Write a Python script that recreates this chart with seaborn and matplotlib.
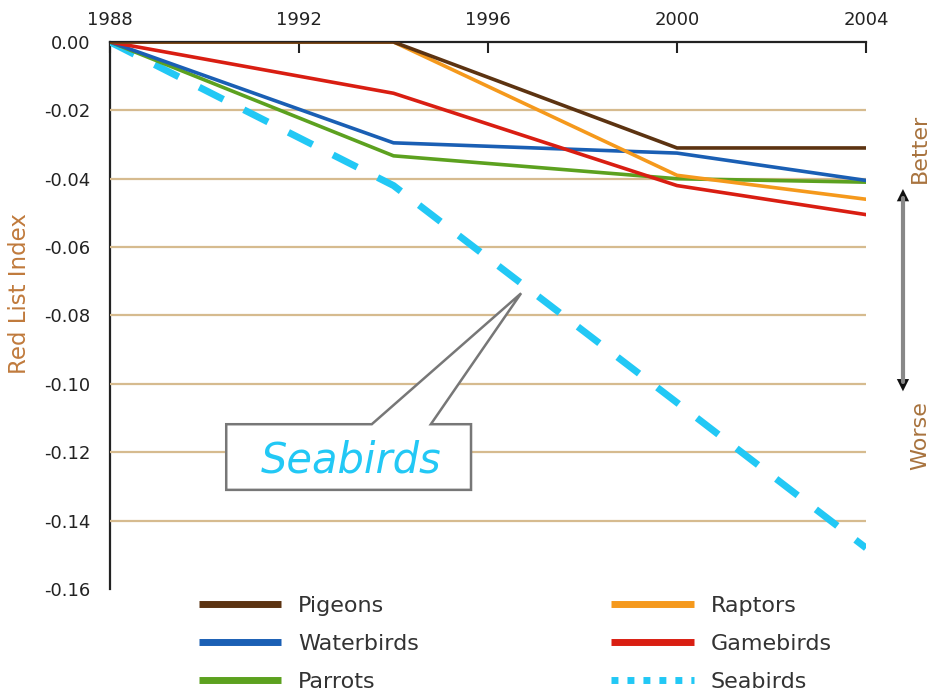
import matplotlib
matplotlib.use("Agg")
import matplotlib.pyplot as plt
from matplotlib.lines import Line2D
from matplotlib.patches import Polygon
import seaborn as sns
import pandas as pd

# Red List Index change since 1988
years = [1988, 1994, 2000, 2004]
pigeons = [0.0, 0.0, -0.031, -0.031]
raptors = [0.0, 0.0, -0.039, -0.046]
waterbirds = [0.0, -0.0295, -0.0325, -0.0405]
gamebirds = [0.0, -0.015, -0.042, -0.0505]
parrots = [0.0, -0.0333, -0.040, -0.041]
seabirds = [0.0, -0.042, -0.1055, -0.148]

groups = ["Pigeons", "Waterbirds", "Parrots", "Raptors", "Gamebirds", "Seabirds"]
values = [pigeons, waterbirds, parrots, raptors, gamebirds, seabirds]
colors = ["#5c3311", "#1a5fb4", "#5ca11f", "#f5991c", "#d91e12", "#22c8f5"]

xticks = [1988, 1992, 1996, 2000, 2004]
yticks = [0.0, -0.02, -0.04, -0.06, -0.08, -0.10, -0.12, -0.14, -0.16]
grid_levels = [-0.02, -0.04, -0.06, -0.08, -0.10, -0.12, -0.14]

df = pd.DataFrame({
    "year": years * len(groups),
    "rli": [v for vals in values for v in vals],
    "group": [g for g in groups for _ in years],
})

sns.set_style("white")
plt.rcParams["font.family"] = ["DejaVu Sans"]

fig = plt.figure(figsize=(9.36, 6.95), dpi=100)
ax = fig.add_axes([0.1175, 0.1525, 0.8078, 0.7871])

ax.hlines(grid_levels, xticks[0], xticks[-1], color="#d6bb8f", lw=1.6, zorder=1)

# draw in back-to-front order like the reference
order = ["Seabirds", "Parrots", "Waterbirds", "Gamebirds", "Raptors", "Pigeons"]
pal = dict(zip(groups, colors))
for g in order:
    sub = df[df.group == g]
    if g == "Seabirds":
        sns.lineplot(data=sub, x="year", y="rli", color=pal[g], lw=5, ax=ax,
                     zorder=2, legend=False)
        ax.lines[-1].set_dashes([3.9, 3.3])
    else:
        sns.lineplot(data=sub, x="year", y="rli", color=pal[g], lw=2.6, ax=ax,
                     zorder=3, legend=False)

ax.set_xlim(1988, 2004)
ax.set_ylim(-0.16, 0.0)
ax.set_xticks(xticks)
ax.set_yticks(yticks)
ax.set_yticklabels([f"{t:.2f}" for t in yticks])
ax.xaxis.tick_top()
ax.tick_params(axis="x", direction="in", length=8, width=1.5, colors="#222222",
               labelsize=13, pad=9)
ax.tick_params(axis="y", direction="out", length=8, width=1.5, colors="#222222",
               labelsize=13, pad=6)
ax.set_xlabel("")
ax.set_ylabel("")
for s in ["right", "bottom"]:
    ax.spines[s].set_visible(False)
for s in ["top", "left"]:
    ax.spines[s].set_color("#222222")
    ax.spines[s].set_linewidth(1.6)
ax.spines["left"].set_zorder(0.5)

fig.text(0.021, 0.578, "Red List Index", rotation=90, ha="center", va="center",
         fontsize=16.5, color="#c07a3c")
fig.text(0.983, 0.787, "Better", rotation=90, ha="center", va="center",
         fontsize=16, color="#a8733e")
fig.text(0.983, 0.374, "Worse", rotation=90, ha="center", va="center",
         fontsize=16, color="#a8733e")
fig.add_artist(plt.Line2D([0.9647, 0.9647], [0.45, 0.715], transform=fig.transFigure,
                          color="#888888", lw=3))
ax.annotate("", xy=(0.9647, 0.728), xytext=(0.9647, 0.437), xycoords="figure fraction",
            textcoords="figure fraction",
            arrowprops=dict(arrowstyle="<|-|>", color="#111111", lw=0.01,
                            mutation_scale=22, shrinkA=0, shrinkB=0))

# callout box pointing at the seabirds line
tip = (1996.7, -0.0735)
callout = [(1990.46, -0.1118), (1993.54, -0.1118), tip, (1994.79, -0.1118),
           (1995.64, -0.1118), (1995.64, -0.1310), (1990.46, -0.1310)]
ax.add_patch(Polygon(callout, closed=True, facecolor="white", edgecolor="#777777",
                     lw=1.8, zorder=5))
ax.text(1993.1, -0.1225, "Seabirds", ha="center", va="center", fontsize=30,
        fontstyle="italic", color="#22c8f5", zorder=6)

handles = []
for g, c in zip(groups, colors):
    if g == "Seabirds":
        handles.append(Line2D([], [], color=c, lw=5, dashes=[1.0, 1.3],
                              dash_capstyle="butt"))
    else:
        handles.append(Line2D([], [], color=c, lw=5, solid_capstyle="butt"))
fig.legend(handles, groups, ncol=2, loc="upper left", bbox_to_anchor=(0.2126, 0.1425),
           frameon=False, fontsize=16, handlelength=3.7, handletextpad=0.77,
           columnspacing=8.65, labelspacing=0.81, borderpad=0, borderaxespad=0,
           labelcolor="#333333")

fig.savefig("out.png", dpi=100)
